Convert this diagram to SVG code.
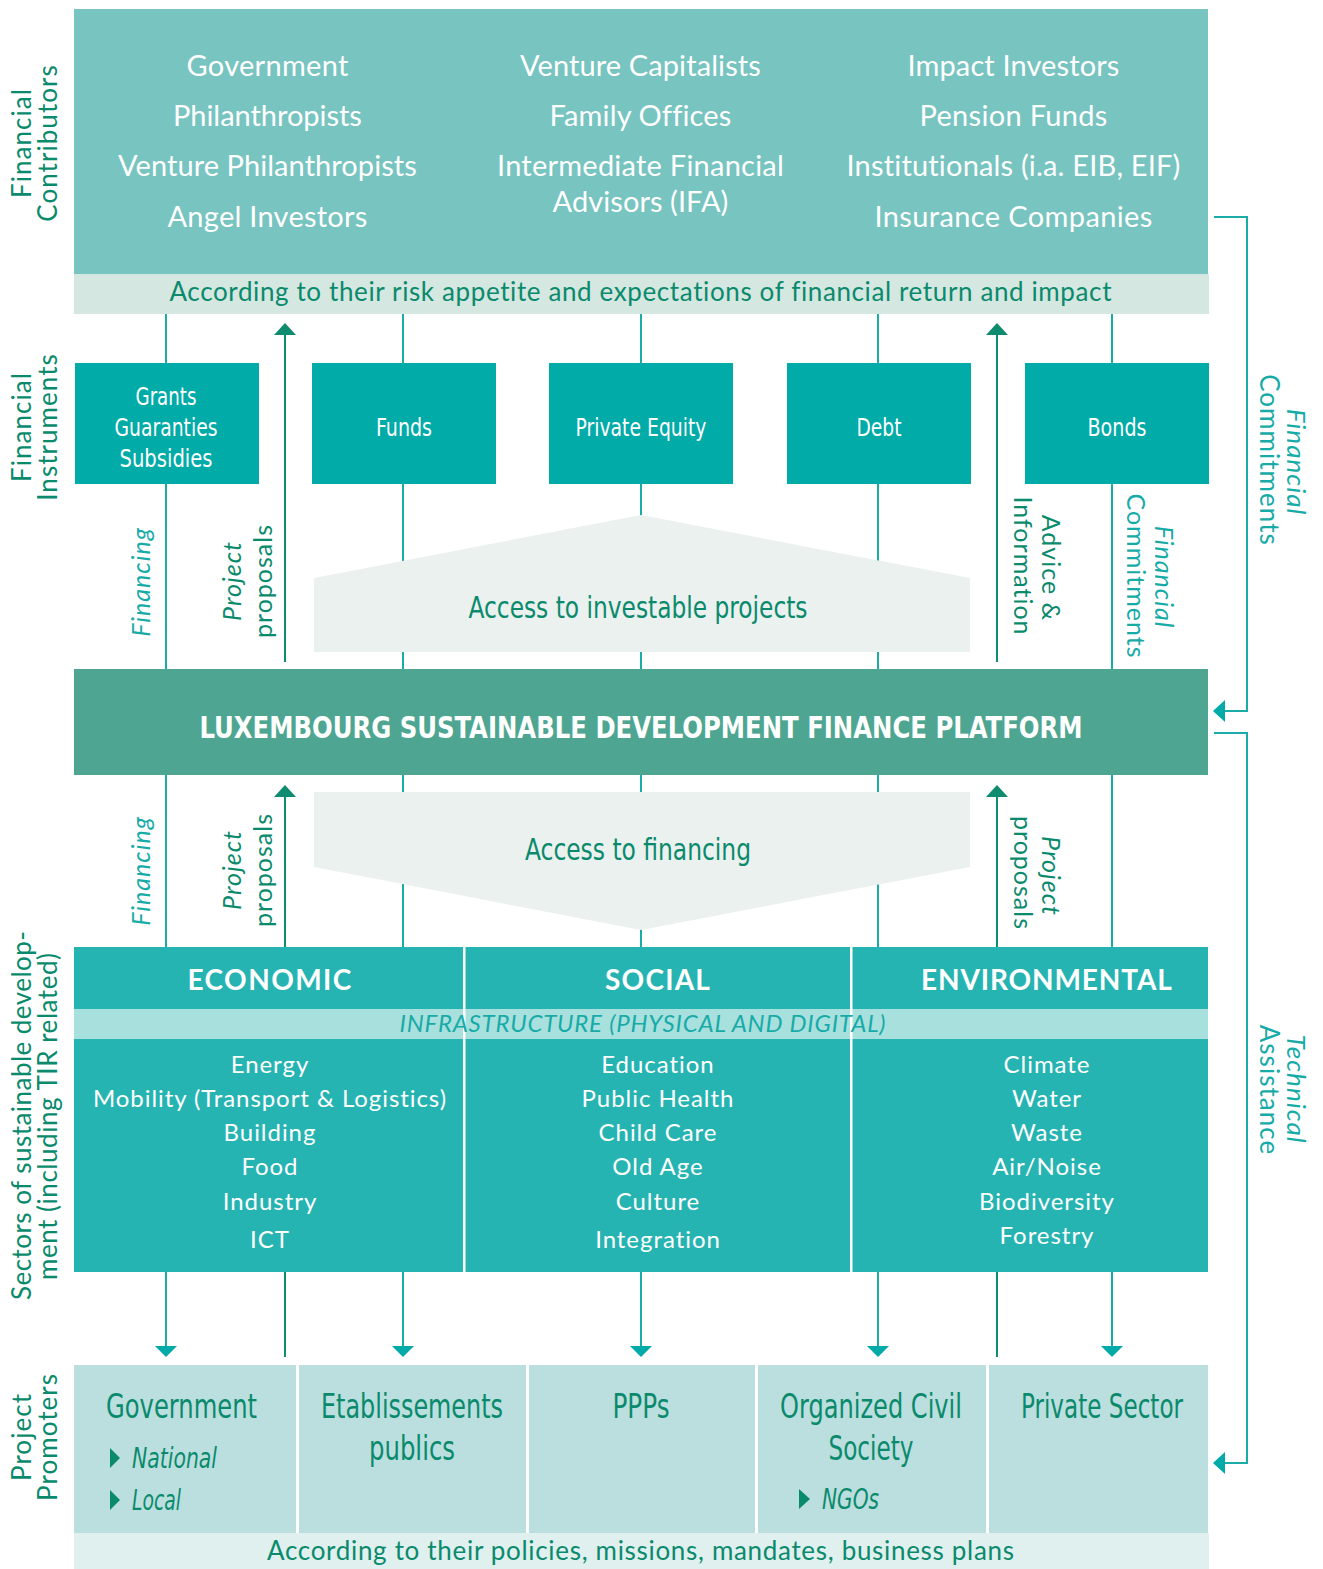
<svg xmlns="http://www.w3.org/2000/svg" width="1323" height="1569" viewBox="0 0 1323 1569">
<style>
.av{font-family:Lato,"Open Sans","Liberation Sans",sans-serif;letter-spacing:0.04em}
.cd{font-family:"DejaVu Sans Condensed","Liberation Sans Narrow","Liberation Sans",sans-serif}
.w{fill:#ffffff}
.dg{fill:#0A8A6C}
.tl{fill:#17ABA8}
.ln{stroke:#1AACA9;stroke-width:2;fill:none}
.dl{stroke:#0F8C70;stroke-width:2;fill:none}
.mid{text-anchor:middle}
.it{font-style:italic}
</style>
<rect width="1323" height="1569" fill="#ffffff"/>

<g id="contributors">
<rect x="74" y="9" width="1134" height="265" fill="#77C4C0"/>
<g class="av w mid" font-size="29" lengthAdjust="spacing">
<text x="268" y="76" textLength="163">Government</text>
<text x="268" y="126" textLength="190">Philanthropists</text>
<text x="268" y="176" textLength="300">Venture Philanthropists</text>
<text x="268" y="227" textLength="201">Angel Investors</text>
<text x="641" y="76" textLength="242">Venture Capitalists</text>
<text x="641" y="126" textLength="183">Family Offices</text>
<text x="641" y="176" textLength="288">Intermediate Financial</text>
<text x="641" y="212" textLength="177">Advisors (IFA)</text>
<text x="1014" y="76" textLength="213">Impact Investors</text>
<text x="1014" y="126" textLength="189">Pension Funds</text>
<text x="1014" y="176" textLength="335">Institutionals (i.a. EIB, EIF)</text>
<text x="1014" y="227" textLength="279">Insurance Companies</text>
</g>
<rect x="74" y="274" width="1135" height="40" fill="#D5E7E1"/>
<text class="av dg mid" x="641" y="301" font-size="26" textLength="943">According to their risk appetite and expectations of financial return and impact</text>
</g>

<g id="connectors">
<path class="ln" d="M166 314V363M403 314V363M641 314V363M878 314V363M1112 314V363"/>
<path class="ln" d="M166 483V669M403 483V669M641 483V669M878 483V669M1112 483V669"/>
<path class="dl" d="M285 662V334M997 662V334"/>
<polygon points="274,335 285,323 296,335" fill="#0F8C70"/>
<polygon points="986,335 997,323 1008,335" fill="#0F8C70"/>
<path class="ln" d="M166 774V947M403 774V947M641 774V947M878 774V947M1112 774V947"/>
<path class="dl" d="M285 947V796M997 947V796"/>
<polygon points="274,797 285,785 296,797" fill="#0F8C70"/>
<polygon points="986,797 997,785 1008,797" fill="#0F8C70"/>
<path class="ln" d="M166 1272V1347M403 1272V1347M641 1272V1347M878 1272V1347M1112 1272V1347"/>
<polygon points="155,1346 177,1346 166,1357" fill="#00AAA8"/>
<polygon points="392,1346 414,1346 403,1357" fill="#00AAA8"/>
<polygon points="630,1346 652,1346 641,1357" fill="#00AAA8"/>
<polygon points="867,1346 889,1346 878,1357" fill="#00AAA8"/>
<polygon points="1101,1346 1123,1346 1112,1357" fill="#00AAA8"/>
<path class="dl" d="M285 1272V1357M997 1272V1357"/>
<path class="ln" d="M1214 217H1247V711H1224"/>
<polygon points="1213,711 1225,700 1225,722" fill="#00AAA8"/>
<path class="ln" d="M1214 733H1247V1463H1224"/>
<polygon points="1213,1463 1225,1452 1225,1474" fill="#00AAA8"/>
</g>

<g id="instruments">
<rect x="75" y="363" width="184" height="121" fill="#00ABA8"/>
<rect x="312" y="363" width="184" height="121" fill="#00ABA8"/>
<rect x="549" y="363" width="184" height="121" fill="#00ABA8"/>
<rect x="787" y="363" width="184" height="121" fill="#00ABA8"/>
<rect x="1025" y="363" width="184" height="121" fill="#00ABA8"/>
<g class="cd w mid" font-size="24">
<text x="166" y="405" textLength="61" lengthAdjust="spacingAndGlyphs">Grants</text>
<text x="166" y="436" textLength="103" lengthAdjust="spacingAndGlyphs">Guaranties</text>
<text x="166" y="467" textLength="93" lengthAdjust="spacingAndGlyphs">Subsidies</text>
<text x="404" y="436" textLength="56" lengthAdjust="spacingAndGlyphs">Funds</text>
<text x="641" y="436" textLength="131" lengthAdjust="spacingAndGlyphs">Private Equity</text>
<text x="879" y="436" textLength="45" lengthAdjust="spacingAndGlyphs">Debt</text>
<text x="1117" y="436" textLength="59" lengthAdjust="spacingAndGlyphs">Bonds</text>
</g>
</g>

<g id="access-projects">
<polygon points="314,578 641,515 970,578 970,652 314,652" fill="#EBF1EF"/>
<text class="cd dg mid" x="638" y="618" font-size="30" textLength="339" lengthAdjust="spacingAndGlyphs">Access to investable projects</text>
</g>

<g id="platform">
<rect x="74" y="669" width="1134" height="106" fill="#4EA692"/>
<text class="cd w mid" x="641" y="738" font-size="30" font-weight="bold" textLength="883" lengthAdjust="spacingAndGlyphs">LUXEMBOURG SUSTAINABLE DEVELOPMENT FINANCE PLATFORM</text>
</g>

<g id="access-financing">
<polygon points="314,792 970,792 970,867 641,930 314,867" fill="#EBF1EF"/>
<text class="cd dg mid" x="638" y="860" font-size="30" textLength="226" lengthAdjust="spacingAndGlyphs">Access to financing</text>
</g>

<g id="flow-labels">
<g class="av" font-size="25">
<text class="tl it mid" transform="translate(150,582) rotate(-90)">Financing</text>
<text class="dg it mid" transform="translate(241,581) rotate(-90)">Project</text>
<text class="dg mid" transform="translate(272,581) rotate(-90)">proposals</text>
<text class="tl it mid" transform="translate(150,871) rotate(-90)">Financing</text>
<text class="dg it mid" transform="translate(241,870) rotate(-90)">Project</text>
<text class="dg mid" transform="translate(272,870) rotate(-90)">proposals</text>
<text class="dg mid" transform="translate(1042,568) rotate(90)">Advice &amp;</text>
<text class="dg mid" transform="translate(1014,566) rotate(90)">Information</text>
<text class="tl it mid" transform="translate(1155,577) rotate(90)">Financial</text>
<text class="tl mid" transform="translate(1127,576) rotate(90)">Commitments</text>
<text class="dg it mid" transform="translate(1042,876) rotate(90)">Project</text>
<text class="dg mid" transform="translate(1014,873) rotate(90)">proposals</text>
</g>
<g class="av tl" font-size="26">
<text class="it mid" transform="translate(1287,462) rotate(90)">Financial</text>
<text class="mid" transform="translate(1260,460) rotate(90)">Commitments</text>
<text class="it mid" transform="translate(1287,1089) rotate(90)">Technical</text>
<text class="mid" transform="translate(1260,1090) rotate(90)">Assistance</text>
</g>
</g>

<g id="row-labels" class="av dg mid" font-size="26">
<text transform="translate(31,143) rotate(-90)">Financial</text>
<text transform="translate(57,143) rotate(-90)">Contributors</text>
<text transform="translate(31,427) rotate(-90)">Financial</text>
<text transform="translate(57,427) rotate(-90)">Instruments</text>
<text transform="translate(31,1115) rotate(-90)" textLength="370">Sectors of sustainable develop-</text>
<text transform="translate(57,1116) rotate(-90)" textLength="328">ment (including TIR related)</text>
<text transform="translate(31,1437) rotate(-90)">Project</text>
<text transform="translate(57,1437) rotate(-90)">Promoters</text>
</g>

<g id="sectors">
<rect x="74" y="947" width="1134" height="325" fill="#26B4B2"/>
<rect x="74" y="1009" width="1134" height="30" fill="#A8E0DE"/>
<rect x="463" y="947" width="2.5" height="325" fill="#ffffff"/>
<rect x="850" y="947" width="2.5" height="325" fill="#ffffff"/>
<g class="av w mid" font-size="28" font-weight="bold">
<text x="270" y="990" textLength="165">ECONOMIC</text>
<text x="658" y="990" textLength="106">SOCIAL</text>
<text x="1047" y="990" textLength="252">ENVIRONMENTAL</text>
</g>
<text class="av tl it mid" x="643" y="1032" font-size="24" textLength="487">INFRASTRUCTURE (PHYSICAL AND DIGITAL)</text>
<g class="av w mid" font-size="24">
<text x="270" y="1073">Energy</text>
<text x="270" y="1107" textLength="354">Mobility (Transport &amp; Logistics)</text>
<text x="270" y="1141">Building</text>
<text x="270" y="1175">Food</text>
<text x="270" y="1210">Industry</text>
<text x="270" y="1248">ICT</text>
<text x="658" y="1073">Education</text>
<text x="658" y="1107">Public Health</text>
<text x="658" y="1141">Child Care</text>
<text x="658" y="1175">Old Age</text>
<text x="658" y="1210">Culture</text>
<text x="658" y="1248">Integration</text>
<text x="1047" y="1073">Climate</text>
<text x="1047" y="1107">Water</text>
<text x="1047" y="1141">Waste</text>
<text x="1047" y="1175">Air/Noise</text>
<text x="1047" y="1210">Biodiversity</text>
<text x="1047" y="1244">Forestry</text>
</g>
</g>

<g id="promoters">
<rect x="74" y="1365" width="1134" height="168" fill="#BBDFDE"/>
<rect x="296" y="1365" width="3" height="168" fill="#ffffff"/>
<rect x="526" y="1365" width="3" height="168" fill="#ffffff"/>
<rect x="755" y="1365" width="3" height="168" fill="#ffffff"/>
<rect x="986" y="1365" width="3" height="168" fill="#ffffff"/>
<g class="cd dg" font-size="33">
<text x="106" y="1418" textLength="151" lengthAdjust="spacingAndGlyphs">Government</text>
<text class="mid" x="412" y="1418" textLength="182" lengthAdjust="spacingAndGlyphs">Etablissements</text>
<text class="mid" x="412" y="1460" textLength="86" lengthAdjust="spacingAndGlyphs">publics</text>
<text class="mid" x="641" y="1418" textLength="57" lengthAdjust="spacingAndGlyphs">PPPs</text>
<text class="mid" x="871" y="1418" textLength="182" lengthAdjust="spacingAndGlyphs">Organized Civil</text>
<text class="mid" x="871" y="1460" textLength="85" lengthAdjust="spacingAndGlyphs">Society</text>
<text class="mid" x="1102" y="1418" textLength="162" lengthAdjust="spacingAndGlyphs">Private Sector</text>
</g>
<g class="cd dg it" font-size="28">
<text x="132" y="1468" textLength="85" lengthAdjust="spacingAndGlyphs">National</text>
<text x="132" y="1510" textLength="49" lengthAdjust="spacingAndGlyphs">Local</text>
<text x="822" y="1509" textLength="57" lengthAdjust="spacingAndGlyphs">NGOs</text>
</g>
<g fill="#0A8A6C">
<polygon points="110,1448 120,1458 110,1468"/>
<polygon points="110,1490 120,1500 110,1510"/>
<polygon points="799,1489 810,1499 799,1509"/>
</g>
<rect x="74" y="1533" width="1135" height="36" fill="#DFF0EF"/>
<text class="av dg mid" x="641" y="1560" font-size="26" textLength="748">According to their policies, missions, mandates, business plans</text>
</g>
</svg>
